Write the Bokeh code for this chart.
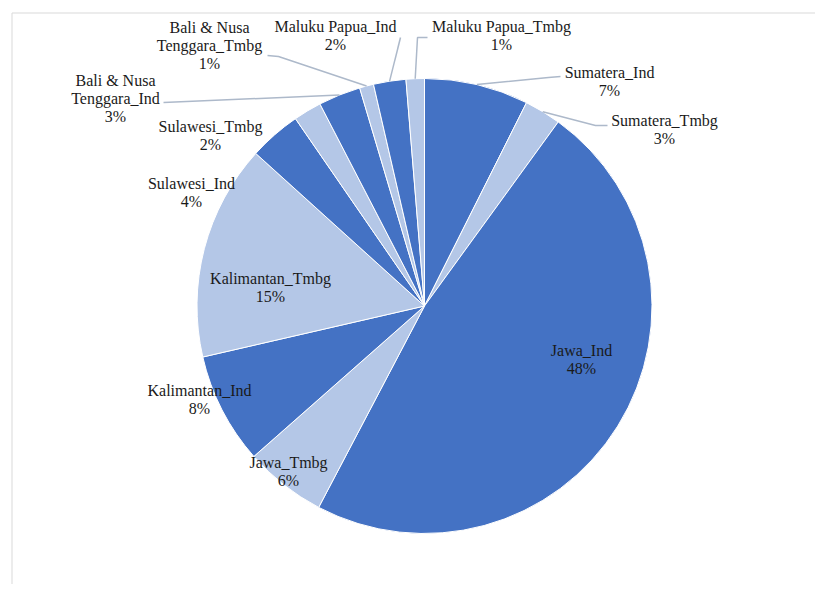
import math
from bokeh.plotting import figure
from bokeh.models import Range1d, ColumnDataSource
from bokeh.core.properties import value
from bokeh.embed import file_html
from bokeh.resources import INLINE

# ---- data (clockwise from 12 o'clock) ----
categories = ["Sumatera_Ind", "Sumatera_Tmbg", "Jawa_Ind", "Jawa_Tmbg",
              "Kalimantan_Ind", "Kalimantan_Tmbg", "Sulawesi_Ind", "Sulawesi_Tmbg",
              "Bali & Nusa Tenggara_Ind", "Bali & Nusa Tenggara_Tmbg",
              "Maluku Papua_Ind", "Maluku Papua_Tmbg"]
shares = [7.4, 2.6, 47.7, 5.8, 7.9, 15.3, 3.7, 2.0, 3.0, 1.0, 2.3, 1.3]
label_names = ["Sumatera_Ind", "Sumatera_Tmbg", "Jawa_Ind", "Jawa_Tmbg",
               "Kalimantan_Ind", "Kalimantan_Tmbg", "Sulawesi_Ind", "Sulawesi_Tmbg",
               "Bali & Nusa\nTenggara_Ind", "Bali & Nusa\nTenggara_Tmbg",
               "Maluku Papua_Ind", "Maluku Papua_Tmbg"]

# ---- styles / layout ----
DARK = "#4472C4"
LIGHT = "#B4C7E7"
colors = [DARK if c.endswith("_Ind") else LIGHT for c in categories]
W, H = 815, 584
CX, CY, R = 424, 305.5, 227.5  # screen px

def sx(x):
    return x

def sy(y):
    return H - y

# label centre (screen px) of first text line
label_pos = [(609, 72), (664, 120), (581, 350), (288, 462),
             (199, 390), (270, 278), (191, 183), (210, 126),
             (115, 80), (209, 27), (335, 26), (501, 26)]
# leader line points after the rim point (screen px); empty = no leader
leaders = [[(548, 77), (560, 76)], [(595, 125), (607, 125)], [], [],
           [], [], [], [],
           [(163, 102)], [(278, 56), (267, 55)],
           [(400, 37)], [(417, 37), (427, 37)]]

p = figure(width=W, height=H, output_backend="svg", toolbar_location=None,
           x_range=Range1d(0, W), y_range=Range1d(0, H), min_border=0)
p.axis.visible = False
p.grid.visible = False
p.outline_line_color = None
p.background_fill_color = "white"

# chart border (only top and left visible)
p.line([sx(11.5), sx(11.5), sx(900)], [sy(700), sy(12.5), sy(12.5)],
       line_color="#D9D9D9", line_width=1)

total = sum(shares)
starts, ends = [], []
cum = 0.0
for v in shares:
    starts.append(math.pi / 2 - 2 * math.pi * cum / total)
    cum += v
    ends.append(math.pi / 2 - 2 * math.pi * cum / total)

src = ColumnDataSource(dict(start=starts, end=ends, color=colors, cat=categories))
p.wedge(x=sx(CX), y=sy(CY), radius=R, start_angle="start", end_angle="end",
        direction="clock", fill_color="color", line_color="white", line_width=1,
        source=src)

# leader lines
for i, pts in enumerate(leaders):
    if not pts:
        continue
    mid = (starts[i] + ends[i]) / 2
    rx = sx(CX) + R * math.cos(mid)
    ry = sy(CY) + R * math.sin(mid)
    xs = [rx] + [sx(a) for a, b in pts]
    ys = [ry] + [sy(b) for a, b in pts]
    p.line(xs, ys, line_color="#ADB9CA", line_width=1.5)

# labels
tx, ty, tt = [], [], []
for i, name in enumerate(label_names):
    pct = "%d%%" % round(100 * shares[i] / total)
    lines = name.split("\n") + [pct]
    x0, y0 = label_pos[i]
    for k, s in enumerate(lines):
        tx.append(sx(x0))
        ty.append(sy(y0 + 18 * k))
        tt.append(s)
p.text(x=tx, y=ty, text=tt, text_font=value("Liberation Serif"),
       text_font_size="16px", text_align="center", text_baseline="middle",
       text_color="#1A1A1A")

open("out.html", "w").write(file_html(p, INLINE))
